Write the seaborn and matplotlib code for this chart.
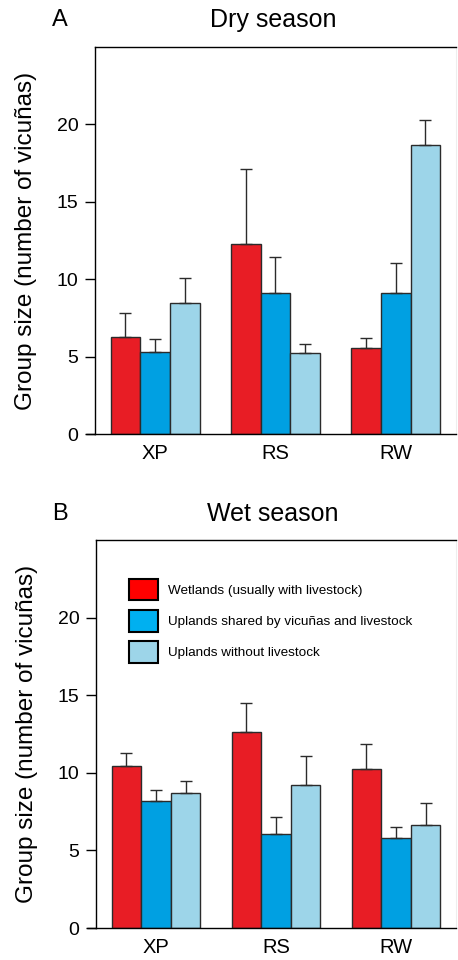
import matplotlib
matplotlib.use("Agg")
import matplotlib.pyplot as plt
import seaborn as sns
import pandas as pd
import numpy as np
from matplotlib.patches import Patch

# ---- data ----
sites = ["XP", "RS", "RW"]
habitats = ["Wetlands (usually with livestock)",
            "Uplands shared by vicuñas and livestock",
            "Uplands without livestock"]

dry_wetlands = [6.29, 12.27, 5.53]
dry_shared = [5.30, 9.13, 9.13]
dry_no_livestock = [8.44, 5.21, 18.64]
dry_wetlands_err = [1.55, 4.82, 0.69]
dry_shared_err = [0.81, 2.28, 1.94]
dry_no_livestock_err = [1.61, 0.58, 1.64]

wet_wetlands = [10.41, 12.62, 10.24]
wet_shared = [8.20, 6.07, 5.82]
wet_no_livestock = [8.71, 9.23, 6.67]
wet_wetlands_err = [0.86, 1.86, 1.63]
wet_shared_err = [0.68, 1.10, 0.68]
wet_no_livestock_err = [0.75, 1.86, 1.38]

y_ticks = [0, 5, 10, 15, 20]

bar_colors = ["#E81D25", "#00A0E2", "#9DD5E9"]
legend_colors = ["#FF0000", "#00B0F0", "#9DD5E9"]


def make_df(vals, errs):
    rows = []
    for h, v, e in zip(habitats, vals, errs):
        for s, vv, ee in zip(sites, v, e):
            rows.append({"site": s, "habitat": h, "mean": vv, "err": ee})
    return pd.DataFrame(rows)


dry_df = make_df([dry_wetlands, dry_shared, dry_no_livestock],
                 [dry_wetlands_err, dry_shared_err, dry_no_livestock_err])
wet_df = make_df([wet_wetlands, wet_shared, wet_no_livestock],
                 [wet_wetlands_err, wet_shared_err, wet_no_livestock_err])

sns.set_style("white")
plt.rcParams["font.family"] = ["Liberation Sans", "DejaVu Sans"]
plt.rcParams["text.color"] = "black"
plt.rcParams["axes.labelcolor"] = "black"
plt.rcParams["xtick.color"] = "black"
plt.rcParams["ytick.color"] = "black"

fig = plt.figure(figsize=(4.58, 9.6), dpi=100)
ax1 = fig.add_axes([0.2074, 0.5479, 0.788, 0.4031])
ax2 = fig.add_axes([0.2096, 0.0333, 0.786, 0.4042])


def draw(ax, df):
    sns.barplot(data=df, x="site", y="mean", hue="habitat",
                order=sites, hue_order=habitats, palette=bar_colors,
                width=0.74, errorbar=None, edgecolor="#2b2b2b",
                linewidth=1.0, saturation=1, legend=False, ax=ax)
    for cont, h in zip(ax.containers, habitats):
        sub = df[df["habitat"] == h].set_index("site").loc[sites]
        xs = [b.get_x() + b.get_width() / 2 for b in cont]
        ys = sub["mean"].values
        es = sub["err"].values
        ax.errorbar(xs, ys, yerr=[np.zeros_like(es), es], fmt="none",
                    ecolor="#2b2b2b", elinewidth=1.0, capsize=4,
                    capthick=1.0, zorder=1)
    ax.set_xlim(-0.5, 2.5)
    ax.set_ylim(0, 25)
    ax.set_yticks(y_ticks)
    ax.set_xlabel("")
    ax.set_ylabel("Group size (number of vicuñas)", fontsize=17.5, labelpad=14)
    ax.tick_params(axis="y", direction="out", length=7, width=1,
                   labelsize=14, pad=5, left=True)
    ax.tick_params(axis="x", length=0, labelsize=14.5, pad=7)
    for s in ["left", "top", "bottom"]:
        ax.spines[s].set_color("k")
        ax.spines[s].set_linewidth(1.0)
    ax.spines["right"].set_color("#eeeeee")
    ax.plot([-0.026, 0], [0, 0], transform=ax.transAxes, clip_on=False,
            color="k", lw=1.0)


draw(ax1, dry_df)
draw(ax2, wet_df)

handles = [Patch(facecolor=c, edgecolor="k", linewidth=1.5) for c in legend_colors]
ax2.legend(handles, habitats, loc="upper left", bbox_to_anchor=(0.091, 0.90),
           frameon=False, fontsize=9.7, handlelength=2.15, handleheight=2.1,
           labelspacing=0.7, handletextpad=0.8, borderpad=0, borderaxespad=0)

fig.text(0.1135, 0.979, "A", fontsize=17, ha="left", va="center")
fig.text(0.596, 0.979, "Dry season", fontsize=18, ha="center", va="center")
fig.text(0.1135, 0.465, "B", fontsize=17, ha="left", va="center")
fig.text(0.596, 0.465, "Wet season", fontsize=18, ha="center", va="center")

fig.savefig("out.png", dpi=100)
